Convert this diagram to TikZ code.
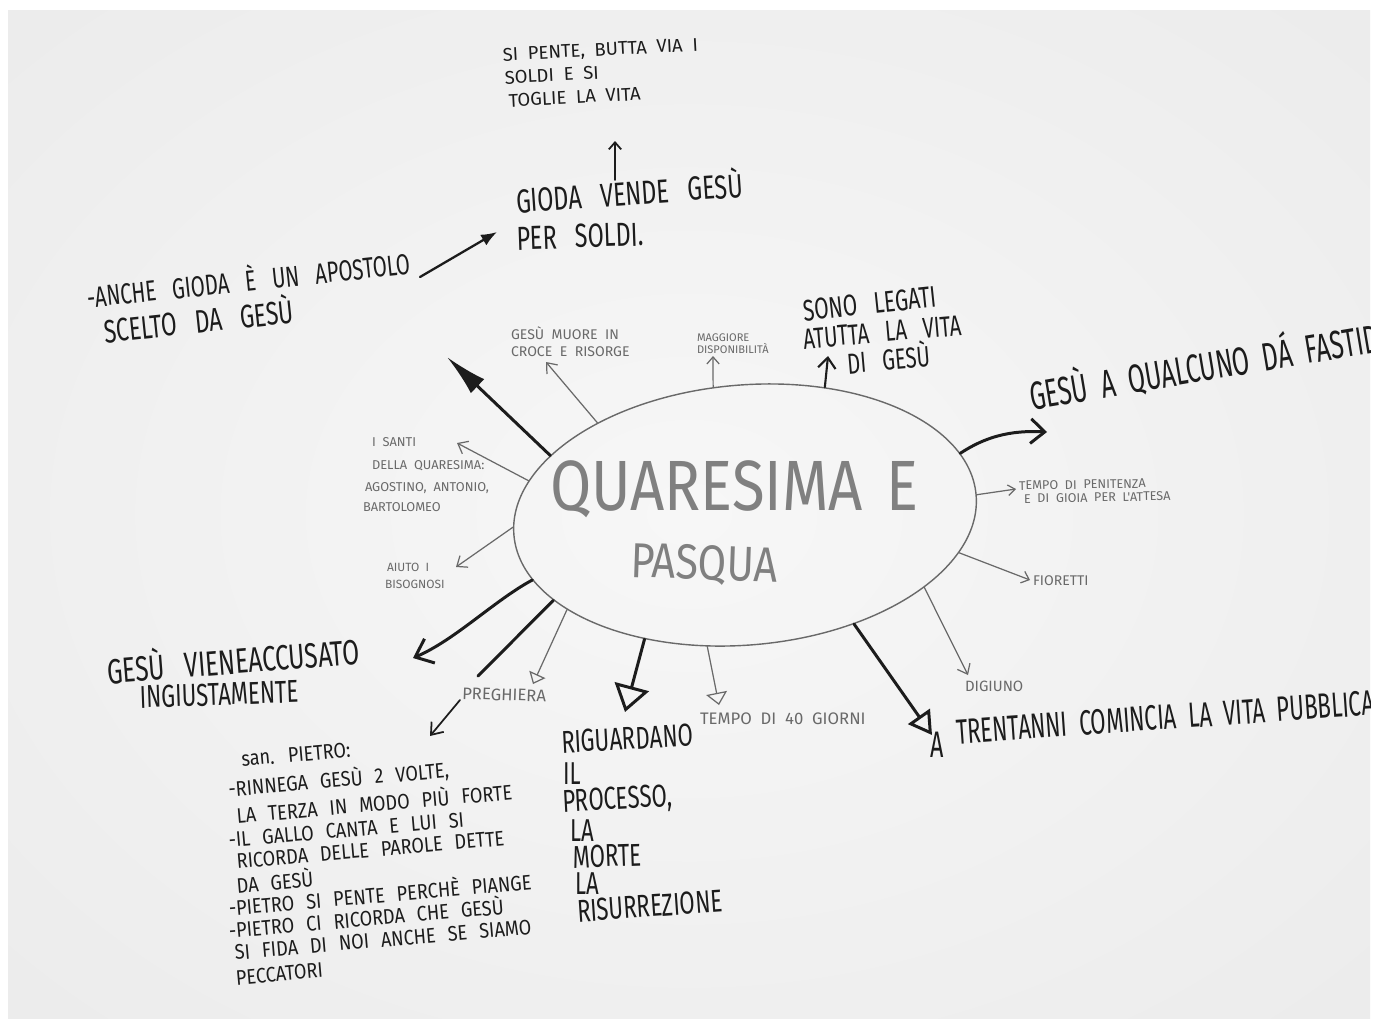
\documentclass[tikz,border=0pt]{standalone}
\usepackage{fontspec}
\setmainfont{Fira Sans}
\newfontfamily\handn[FakeStretch=0.7,WordSpace=3]{Fira Sans}
\newfontfamily\handk[FakeStretch=0.63,WordSpace=2]{Fira Sans}
\newfontfamily\handm[FakeStretch=0.86,WordSpace=2.5]{Fira Sans}
\newfontfamily\handc[FakeStretch=0.84,WordSpace=1.5]{Fira Sans}
\newfontfamily\handw[WordSpace=2]{Fira Sans}
\usetikzlibrary{arrows.meta,shapes.geometric}
\definecolor{ink}{RGB}{28,28,28}
\definecolor{pencil}{RGB}{105,105,105}
\definecolor{pencillight}{RGB}{128,128,128}
\definecolor{papin}{RGB}{247,247,247}
\definecolor{papout}{RGB}{224,224,224}
\pgfdeclareradialshading{papershade}{\pgfpointorigin}{color(0bp)=(papin); color(72bp)=(papout)}
\newcommand\fz[1]{\fontsize{#1}{#1}\selectfont}
\newcommand\ind[1]{\hspace*{#1pt}}
\begin{document}
\begin{tikzpicture}[x=0.02cm,y=-0.02cm,
  mk/.style={draw=ink,line width=1.7pt,line cap=round},
  pn/.style={draw=pencil,line width=0.7pt,line cap=round},
  inkthin/.style={draw=ink,line width=1pt,line cap=round},
  txt/.style={anchor=base west,inner sep=0pt,outer sep=0pt,text=ink},
  ptxt/.style={anchor=base west,inner sep=0pt,outer sep=0pt,text=pencil}]
\useasboundingbox (0,0) rectangle (1381,1025);
\fill[white] (0,0) rectangle (1381,1025);
\shade[shading=papershade] (8,10) rectangle (1370,1018);
\begin{scope}
\clip (8,10) rectangle (1370,1018);
% central ellipse
\node[draw=pencil,line width=0.8pt,ellipse,minimum width=9.28cm,minimum height=5.2cm,rotate=5,inner sep=0pt] (q) at (745,515) {};
\node[ptxt,text=pencillight,font=\handc\fz{40.5}] (qt1) at (550,510) {QUARESIMA E};
\node[ptxt,text=pencillight,font=\handc\fz{28},rotate=-2] (qt2) at (630,577) {PASQUA};
% top texts
\node[txt,font=\handw\fz{10.5},rotate=3] (a1) at (503,61) {SI PENTE, BUTTA VIA I};
\node[txt,font=\handw\fz{10.5},rotate=3] (a2) at (505,84) {SOLDI E SI};
\node[txt,font=\handw\fz{10.5},rotate=3] (a3) at (509,107) {TOGLIE LA VITA};
\node[txt,font=\handn\fz{19},rotate=4] (b1) at (517,213) {GIODA VENDE GESÙ};
\node[txt,font=\handn\fz{19},rotate=2] (b2) at (517,250) {PER SOLDI.};
\node[txt,font=\handn\fz{16.5},rotate=6] (c1) at (88,308) {-ANCHE GIODA È UN APOSTOLO};
\node[txt,font=\handn\fz{18.5},rotate=6] (c2) at (105,343) {SCELTO DA GESÙ};
\node[ptxt,font=\handw\fz{8}] (d1) at (511,339) {GESÙ MUORE IN};
\node[ptxt,font=\handw\fz{8}] (d2) at (511,356) {CROCE E RISORGE};
\node[ptxt,font=\handw\fz{6.3}] (e1) at (697,341) {MAGGIORE};
\node[ptxt,font=\handw\fz{6.3}] (e2) at (697,353) {DISPONIBILITÀ};
\node[txt,font=\handn\fz{17},rotate=6] (f1) at (804,321) {SONO LEGATI};
\node[txt,font=\handn\fz{16.5},rotate=5] (f2) at (804,349) {ATUTTA LA VITA};
\node[txt,font=\handn\fz{16.5},rotate=5] (f3) at (848,374) {DI GESÙ};
\node[txt,font=\handk\fz{22.5},rotate=9.5] (g1) at (1032,410) {GESÙ A QUALCUNO DÁ FASTID};
\node[ptxt,font=\handw\fz{7.2},rotate=1] (h1) at (1019,490) {TEMPO DI PENITENZA};
\node[ptxt,font=\handw\fz{7.2},rotate=1] (h2) at (1024,503) {E DI GIOIA PER L'ATTESA};
\node[ptxt,font=\handw\fz{8}] (i1) at (1033,585) {FIORETTI};
\node[ptxt,font=\handw\fz{8.5}] (j1) at (965,691) {DIGIUNO};
\node[txt,font=\handk\fz{21}] (k0) at (930,757) {A};
\node[txt,font=\handk\fz{20},rotate=4] (k1) at (957,744) {TRENTANNI COMINCIA LA VITA PUBBLICA};
\node[ptxt,font=\handw\fz{9.5}] (l1) at (700,724) {TEMPO DI 40 GIORNI};
\node[txt,font=\handn\fz{18},rotate=3] (m1) at (562,753) {RIGUARDANO};
\node[txt,font=\handn\fz{18}] (m2) at (563,784) {IL};
\node[txt,font=\handn\fz{18},rotate=3] (m3) at (563,812) {PROCESSO,};
\node[txt,font=\handn\fz{18}] (m4) at (570,841) {LA};
\node[txt,font=\handn\fz{18},rotate=2] (m5) at (573,868) {MORTE};
\node[txt,font=\handn\fz{18}] (m6) at (575,894) {LA};
\node[txt,font=\handn\fz{18},rotate=4] (m7) at (578,922) {RISURREZIONE};
\node[ptxt,font=\handw\fz{9.5},rotate=-2] (n1) at (462,699) {PREGHIERA};
\node[txt,font=\handn\fz{20},rotate=4.5] (o1) at (108,684) {GESÙ VIENEACCUSATO};
\node[txt,font=\handn\fz{18},rotate=2] (o2) at (140,708) {INGIUSTAMENTE};
\node[ptxt,font=\handw\fz{7.3}] (p1) at (372,446) {I SANTI};
\node[ptxt,font=\handw\fz{7.3}] (p2) at (372,469) {DELLA QUARESIMA:};
\node[ptxt,font=\handw\fz{7.3}] (p3) at (365,491) {AGOSTINO, ANTONIO,};
\node[ptxt,font=\handw\fz{7.3}] (p4) at (363,511) {BARTOLOMEO};
\node[ptxt,font=\handw\fz{6.8}] (q1) at (387,571) {AIUTO I};
\node[ptxt,font=\handw\fz{6.8}] (q2) at (385,588) {BISOGNOSI};
% san Pietro block (one node; base anchor is the last line)
\node[txt,font=\handm\fz{12},align=left,rotate=5] (r) at (248,984) {%
\ind{7.4}san. PIETRO:\\[4.5pt]
\ind{-1.4}-RINNEGA GESÙ 2 VOLTE,\\[1.7pt]
\ind{1.9}LA TERZA IN MODO PIÙ FORTE\\[1.1pt]
\ind{-3.8}-IL GALLO CANTA E LUI SI\\[0.6pt]
\ind{-0.3}RICORDA DELLE PAROLE DETTE\\[1.7pt]
\ind{-1.5}DA GESÙ\\[0.6pt]
\ind{-7.1}-PIETRO SI PENTE PERCHÈ PIANGE\\[0.6pt]
\ind{-8.2}-PIETRO CI RICORDA CHE GESÙ\\[0.6pt]
\ind{-5.9}SI FIDA DI NOI ANCHE SE SIAMO\\[2.3pt]
\ind{-6.5}PECCATORI};
% coordinates for free ends
\coordinate (tC) at (447,357);
\coordinate (sCB) at (420,277);
\coordinate (tCB) at (497,232);
\coordinate (sBA) at (615,180);
\coordinate (tBA) at (615,141);
\coordinate (tD) at (546,362);
\coordinate (tE) at (713,356);
\coordinate (tF) at (828,356);
\coordinate (tG) at (1047,432);
\coordinate (tH) at (1016,489);
\coordinate (tI) at (1030,580);
\coordinate (tJ) at (968,675);
\coordinate (tK) at (932,735);
\coordinate (tL) at (719,705);
\coordinate (tM) at (625,712);
\coordinate (tN) at (533,684);
\coordinate (eN2) at (478,676);
\coordinate (tO) at (413,658);
\coordinate (sR) at (460,700);
\coordinate (tR) at (430,736);
\coordinate (tP) at (457,443);
\coordinate (tQ) at (456,567);
% connectors
\draw[mk,-{Latex[length=24pt,width=11pt]}] (q.158) -- (tC);
\draw[draw=ink,line width=1.3pt,line cap=round,-{Latex[length=9pt,width=7pt]}] (sCB) -- (tCB);
\draw[inkthin,-{Straight Barb[length=4pt,width=7pt]}] (sBA) -- (tBA);
\draw[pn,-{Straight Barb[length=5pt,width=8pt]}] (q.143) -- (tD);
\draw[pn,-{Straight Barb[length=4pt,width=7pt]}] (q.99) -- (tE);
\draw[draw=ink,line width=1.2pt,line cap=round,-{Straight Barb[length=6pt,width=10pt]}] (q.53) -- (tF);
\draw[mk,-{Straight Barb[length=8pt,width=14pt]}] (q.11) .. controls (985,437) and (1010,430) .. (tG);
\draw[pn,-{Straight Barb[length=4pt,width=6pt]}] (q.0) -- (tH);
\draw[pn,-{Straight Barb[length=4pt,width=7pt]}] (q.-15) -- (tI);
\draw[pn,-{Straight Barb[length=5pt,width=8pt]}] (q.-27) -- (tJ);
\draw[mk,-{Triangle[open,length=13pt,width=15pt]}] (q.-50) -- (tK);
\draw[pn,-{Triangle[open,length=7pt,width=12pt]}] (q.-111) -- (tL);
\draw[mk,-{Triangle[open,length=15pt,width=20pt]}] (q.-134) -- (tM);
\draw[pn,-{Triangle[open,length=6pt,width=10pt]}] (q.-157) -- (tN);
\draw[mk] (q.-161) -- (eN2);
\draw[mk,-{Straight Barb[length=9pt,width=15pt]}] (q.-168) .. controls (495,600) and (455,640) .. (tO);
\draw[inkthin,-{Straight Barb[length=6pt,width=9pt]}] (sR) -- (tR);
\draw[pn,-{Straight Barb[length=5pt,width=8pt]}] (q.166) -- (tP);
\draw[pn,-{Straight Barb[length=5pt,width=8pt]}] (q.178) -- (tQ);
\end{scope}
\end{tikzpicture}
\end{document}
